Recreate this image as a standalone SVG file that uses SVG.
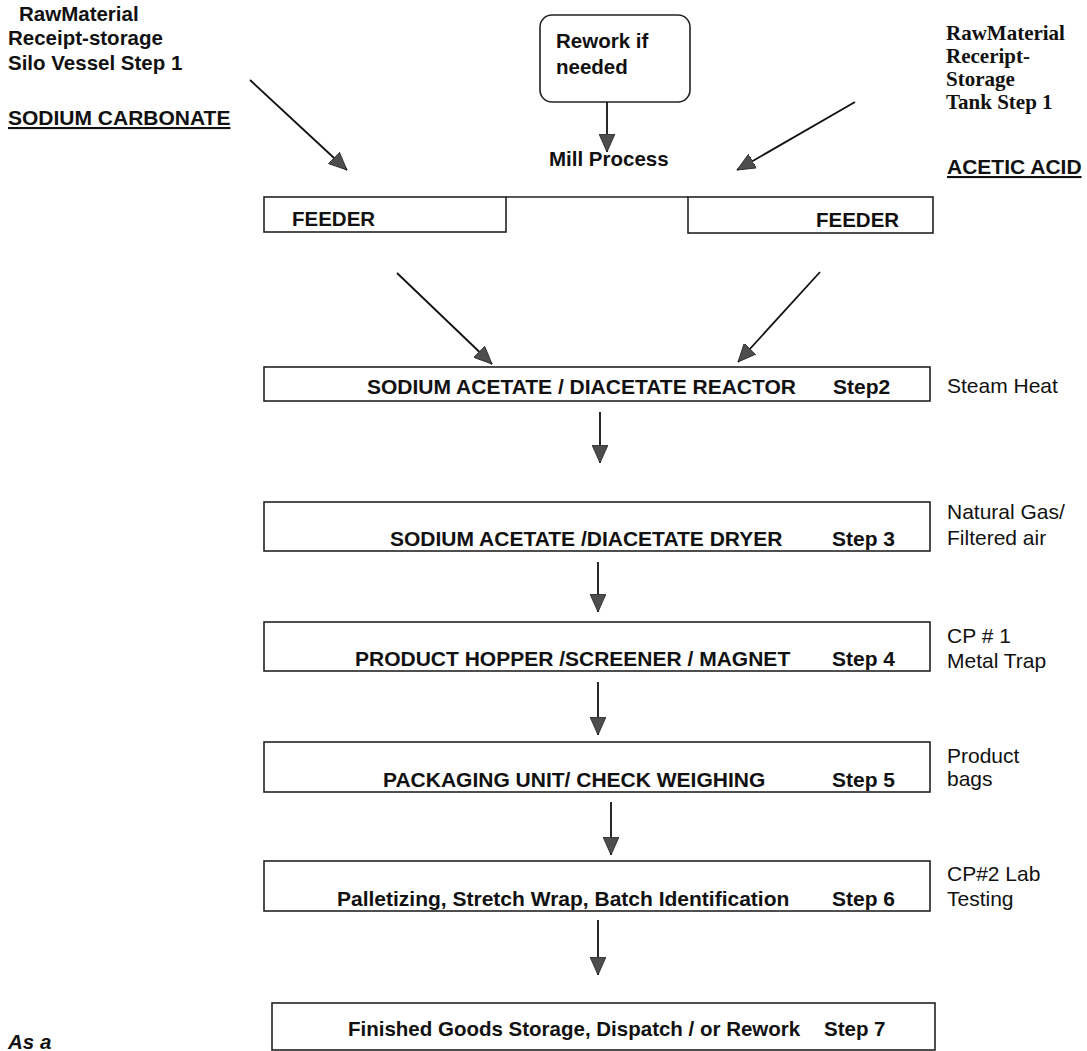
<svg xmlns="http://www.w3.org/2000/svg" width="1087" height="1051" viewBox="0 0 1087 1051" xml:space="preserve">
<style>
.bg{fill:#fff}
.box{fill:#fff;stroke:#222;stroke-width:1.6}
.b{font-family:"Liberation Sans",Arial,sans-serif;font-weight:bold;font-size:20.5px;fill:#111}
.h{font-family:"Liberation Sans",Arial,sans-serif;font-weight:bold;font-size:21px;fill:#111;text-decoration:underline}
.bx{font-family:"Liberation Sans",Arial,sans-serif;font-weight:bold;font-size:21px;fill:#111}
.r{font-family:"Liberation Sans",Arial,sans-serif;font-size:21px;fill:#111}
.t{font-family:"Liberation Serif","Times New Roman",serif;font-weight:bold;font-size:21px;fill:#111}
.i{font-style:italic}
.conn line{stroke:#111;stroke-width:1.8;marker-end:url(#ah)}
</style>
<defs>
<marker id="ah" markerUnits="userSpaceOnUse" markerWidth="20" markerHeight="16" refX="18" refY="8" orient="auto">
<path d="M0,0 L18,8 L0,16 Z" fill="#4d4d4d" stroke="#222" stroke-width="0.8"/>
</marker>
</defs>
<rect class="bg" width="1087" height="1051"/>

<g id="sodium-carbonate">
<text class="b" x="19" y="21">RawMaterial</text>
<text class="b" x="8" y="45">Receipt-storage</text>
<text class="b" x="8" y="70">Silo Vessel Step 1</text>
<text class="h" x="8" y="125">SODIUM CARBONATE</text>
</g>

<g id="rework">
<rect class="box" x="540" y="15" width="150" height="87" rx="12"/>
<text class="b" x="556" y="48">Rework if</text>
<text class="b" x="556" y="74">needed</text>
</g>

<g id="mill-process">
<text class="b" x="549" y="166">Mill Process</text>
</g>

<g id="acetic-acid">
<text class="t" x="946" y="40">RawMaterial</text>
<text class="t" x="946" y="63">Receript-</text>
<text class="t" x="946" y="86">Storage</text>
<text class="t" x="946" y="109">Tank Step 1</text>
<text class="h" x="947" y="174">ACETIC ACID</text>
</g>

<g id="feeders">
<line x1="506" y1="197" x2="688" y2="197" stroke="#222" stroke-width="1.6"/>
<g id="feeder-left">
<rect class="box" x="264" y="197" width="242" height="35"/>
<text class="b" x="292" y="226">FEEDER</text>
</g>
<g id="feeder-right">
<rect class="box" x="688" y="197" width="245" height="36"/>
<text class="b" x="816" y="227">FEEDER</text>
</g>
</g>

<g id="step2">
<rect class="box" x="264" y="367" width="666" height="34"/>
<text class="bx" x="367" y="394">SODIUM ACETATE / DIACETATE  REACTOR</text>
<text class="bx" x="833" y="394">Step2</text>
<text class="r" x="947" y="393">Steam Heat</text>
</g>

<g id="step3">
<rect class="box" x="264" y="502" width="666" height="49"/>
<text class="bx" x="390" y="546">SODIUM ACETATE /DIACETATE  DRYER</text>
<text class="bx" x="832" y="546">Step 3</text>
<text class="r" x="947" y="519">Natural Gas/</text>
<text class="r" x="947" y="545">Filtered air</text>
</g>

<g id="step4">
<rect class="box" x="264" y="622" width="666" height="49"/>
<text class="bx" x="355" y="666">PRODUCT HOPPER /SCREENER / MAGNET</text>
<text class="bx" x="832" y="666">Step 4</text>
<text class="r" x="947" y="643">CP # 1</text>
<text class="r" x="947" y="668">Metal Trap</text>
</g>

<g id="step5">
<rect class="box" x="264" y="742" width="666" height="50"/>
<text class="bx" x="383" y="787">PACKAGING UNIT/ CHECK WEIGHING</text>
<text class="bx" x="832" y="787">Step 5</text>
<text class="r" x="947" y="763">Product</text>
<text class="r" x="947" y="786">bags</text>
</g>

<g id="step6">
<rect class="box" x="264" y="861" width="666" height="50"/>
<text class="bx" x="337" y="906">Palletizing, Stretch Wrap, Batch Identification</text>
<text class="bx" x="832" y="906">Step 6</text>
<text class="r" x="947" y="881">CP#2 Lab</text>
<text class="r" x="947" y="906">Testing</text>
</g>

<g id="step7">
<rect class="box" x="272" y="1003" width="663" height="47"/>
<text class="b" x="348" y="1036">Finished Goods Storage, Dispatch / or Rework</text>
<text class="b" x="824" y="1036">Step 7</text>
</g>

<g id="note">
<text class="b i" x="8" y="1049">As a</text>
</g>

<g id="connectors" class="conn">
<line x1="250" y1="80" x2="347" y2="170"/>
<line x1="607" y1="102" x2="607" y2="152"/>
<line x1="855" y1="102" x2="737" y2="170"/>
<line x1="397" y1="273" x2="492" y2="364"/>
<line x1="820" y1="272" x2="738" y2="362"/>
<line x1="600" y1="412" x2="600" y2="463"/>
<line x1="598" y1="562" x2="598" y2="612"/>
<line x1="598" y1="682" x2="598" y2="735"/>
<line x1="611" y1="802" x2="611" y2="855"/>
<line x1="598" y1="920" x2="598" y2="975"/>
</g>
</svg>
